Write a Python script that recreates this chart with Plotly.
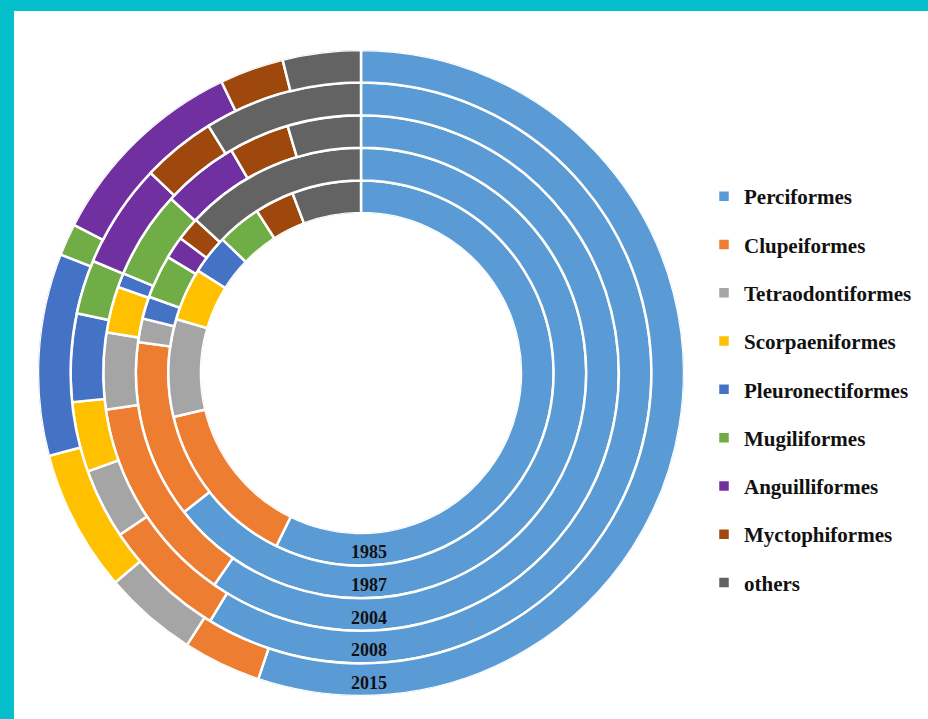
import plotly.graph_objects as go

# ---------------- data (percent of catch per year) -------------
years = ["1985", "1987", "2004", "2008", "2015"]
categories = ["Perciformes", "Clupeiformes", "Tetraodontiformes", "Scorpaeniformes",
              "Pleuronectiformes", "Mugiliformes", "Anguilliformes", "Myctophiformes", "others"]

perciformes       = [57.3, 64.4, 59.7, 58.7, 55.1]
clupeiformes      = [14.1, 12.8, 13.1, 6.9, 3.9]
tetraodontiformes = [8.2, 1.7, 4.8, 3.9, 4.7]
scorpaeniformes   = [4.4, 0.0, 2.9, 3.9, 7.1]
pleuronectiformes = [3.3, 1.6, 0.9, 4.9, 10.1]
mugiliformes      = [3.7, 3.1, 5.5, 3.0, 1.6]
anguilliformes    = [0.0, 1.6, 4.8, 5.8, 10.3]
myctophiformes    = [3.3, 1.7, 3.8, 4.1, 3.2]
others            = [5.8, 13.1, 4.6, 8.8, 3.9]

series = [perciformes, clupeiformes, tetraodontiformes, scorpaeniformes,
          pleuronectiformes, mugiliformes, anguilliformes, myctophiformes, others]

colors = ["#5B9BD5", "#ED7D31", "#A5A5A5", "#FFC000", "#4472C4",
          "#70AD47", "#7030A0", "#9E480E", "#636363"]

# ---------------- geometry ----------------
W, H = 928, 719
CX, CY, R, R_IN = 361, 373, 323, 160
n_rings = len(years)

totals = [sum(s[i] for s in series) for i in range(n_rings)]

fig = go.Figure()
cum = [0.0] * n_rings
for name, vals, col in zip(categories, series, colors):
    widths, thetas = [], []
    for i in range(n_rings):
        w = vals[i] / totals[i] * 360.0
        widths.append(w)
        thetas.append(cum[i] + w / 2.0)
        cum[i] += w
    fig.add_trace(go.Barpolar(
        name=name,
        legendgroup=name,
        r=[1] * n_rings,
        base=list(range(n_rings)),
        theta=thetas,
        width=widths,
        marker=dict(color=col, line=dict(color="white", width=2.5)),
        hovertext=years,
        hovertemplate="%{hovertext}: " + name + "<extra></extra>",
    ))

fig.update_layout(
    width=W, height=H,
    margin=dict(l=0, r=0, t=0, b=0),
    paper_bgcolor="#06BFCC",
    plot_bgcolor="white",
    polar=dict(
        domain=dict(x=[(CX - R) / W, (CX + R) / W], y=[1 - (CY + R) / H, 1 - (CY - R) / H]),
        hole=R_IN / R,
        bgcolor="white",
        barmode="overlay",
        radialaxis=dict(range=[0, n_rings], visible=False),
        angularaxis=dict(direction="clockwise", rotation=90, visible=False),
    ),
    showlegend=True,
    legend=dict(
        x=704 / W, xanchor="left",
        y=1 - 176 / H, yanchor="top",
        traceorder="grouped",
        tracegroupgap=18,
        bgcolor="rgba(0,0,0,0)",
        font=dict(family="Liberation Serif", size=21, color="#111111", weight="bold"),
    ),
    shapes=[dict(type="rect", xref="paper", yref="paper",
                 x0=14 / W, x1=1.0, y0=0.0, y1=1 - 11 / H,
                 fillcolor="white", line=dict(width=0), layer="below")],
)

ring_th = (R - R_IN) / n_rings
for i, yr in enumerate(years):
    ypx = CY + R_IN + ring_th * (i + 0.5) + 3
    fig.add_annotation(
        x=369 / W, y=1 - ypx / H, xref="paper", yref="paper",
        xanchor="center", yanchor="middle",
        text=yr, showarrow=False,
        font=dict(family="Liberation Serif", size=18, color="#111111", weight="bold"),
    )

fig.write_html("out.html",
               config={"displayModeBar": False},
               post_script="document.body.style.margin='0';document.body.style.overflow='hidden';")
